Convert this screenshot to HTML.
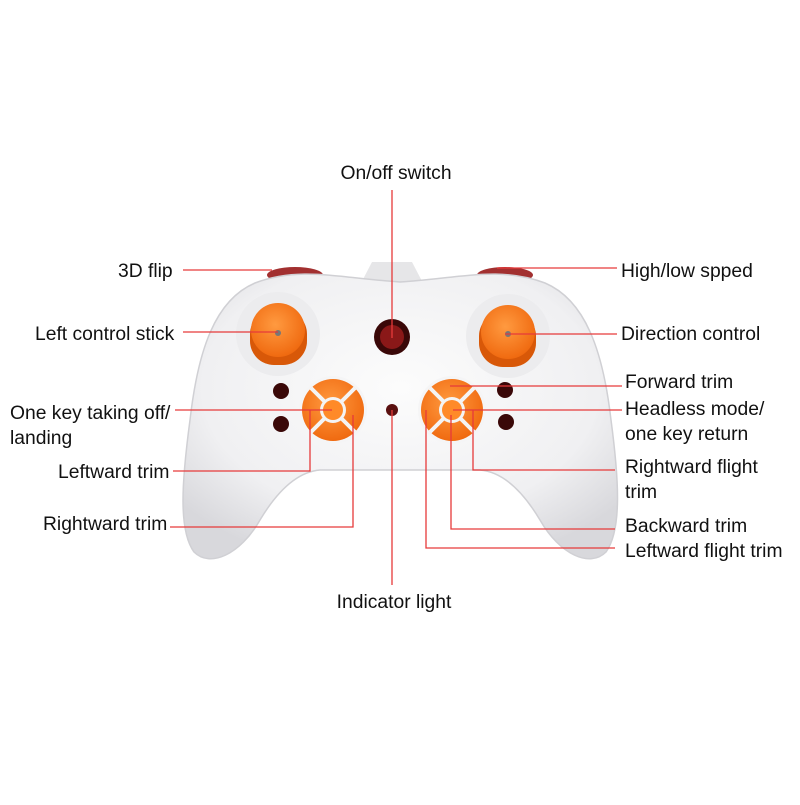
<!DOCTYPE html>
<html><head><style>
body{margin:0;background:#fff;}
.t{font-family:"Liberation Sans",sans-serif;font-size:19.3px;fill:#111;}
</style></head><body>
<svg width="800" height="800" viewBox="0 0 800 800" xmlns="http://www.w3.org/2000/svg">
<defs>
<radialGradient id="body" cx="50%" cy="40%" r="65%"><stop offset="0" stop-color="#fcfcfc"/><stop offset="0.7" stop-color="#f0f0f2"/><stop offset="1" stop-color="#d8d8dc"/></radialGradient>
<radialGradient id="or" cx="45%" cy="40%" r="60%"><stop offset="0" stop-color="#ff9a40"/><stop offset="1" stop-color="#f06a10"/></radialGradient>
</defs>
<ellipse cx="295" cy="275" rx="28" ry="8" fill="#a23030"/>
<ellipse cx="505" cy="275" rx="28" ry="8" fill="#a23030"/>
<path d="M360 285 L372 262 L412 262 L424 285 Z" fill="#e6e6e8"/>
<path d="M255 283 C300 266 340 278 400 282 C460 278 500 266 545 283 C585 300 603 350 611 420 C619 480 622 530 606 552 C590 568 560 555 540 520 C525 495 505 472 480 470 L320 470 C295 472 275 495 260 520 C240 555 210 568 194 552 C178 530 182 480 190 420 C198 350 215 300 255 283 Z" fill="url(#body)" stroke="#d0d0d4" stroke-width="1.5"/>
<circle cx="278" cy="334" r="42" fill="#ececee"/>
<circle cx="508" cy="336" r="42" fill="#ececee"/>
<rect x="250" y="310" width="57" height="55" rx="24" fill="#d85808"/>
<circle cx="278" cy="330" r="27" fill="url(#or)"/>
<circle cx="278" cy="333" r="3" fill="#777"/>
<rect x="479" y="312" width="57" height="55" rx="24" fill="#d85808"/>
<circle cx="508" cy="332" r="27" fill="url(#or)"/>
<circle cx="508" cy="334" r="3" fill="#777"/>
<circle cx="392" cy="337" r="18" fill="#3a0808"/>
<circle cx="392" cy="337" r="12" fill="#8a1818"/>
<circle cx="281" cy="391" r="8" fill="#3a0808"/>
<circle cx="281" cy="424" r="8" fill="#3a0808"/>
<circle cx="505" cy="390" r="8" fill="#3a0808"/>
<circle cx="506" cy="422" r="8" fill="#3a0808"/>
<circle cx="392" cy="410" r="6" fill="#5a1010"/>
<g>
<circle cx="333" cy="410" r="34" fill="#f5f5f6"/>
<circle cx="333" cy="410" r="31" fill="url(#or)"/>
<line x1="311" y1="388" x2="355" y2="432" stroke="#f4f4f4" stroke-width="4"/>
<line x1="355" y1="388" x2="311" y2="432" stroke="#f4f4f4" stroke-width="4"/>
<circle cx="333" cy="410" r="13" fill="#f4f4f4"/>
<circle cx="333" cy="410" r="10" fill="#ff8a28"/>
</g>
<g>
<circle cx="452" cy="410" r="34" fill="#f5f5f6"/>
<circle cx="452" cy="410" r="31" fill="url(#or)"/>
<line x1="430" y1="388" x2="474" y2="432" stroke="#f4f4f4" stroke-width="4"/>
<line x1="474" y1="388" x2="430" y2="432" stroke="#f4f4f4" stroke-width="4"/>
<circle cx="452" cy="410" r="13" fill="#f4f4f4"/>
<circle cx="452" cy="410" r="10" fill="#ff8a28"/>
</g>
<g stroke="#e63a3a" stroke-width="1.3" fill="none">
<path d="M392 190 V338"/>
<path d="M183 270 H272"/>
<path d="M497 268 H617"/>
<path d="M183 332 H278"/>
<path d="M505 334 H617"/>
<path d="M450 386 H622"/>
<path d="M175 410 H332"/>
<path d="M453 410 H622"/>
<path d="M173 471 H310 V410"/>
<path d="M170 527 H353 V415"/>
<path d="M473 410 V470 H615"/>
<path d="M451 415 V529 H615"/>
<path d="M426 410 V548 H615"/>
<path d="M392 410 V585"/>
</g>
<text class="t" x="396" y="179" text-anchor="middle">On/off switch</text>
<text class="t" x="118" y="277">3D flip</text>
<text class="t" x="621" y="277">High/low spped</text>
<text class="t" x="35" y="340">Left control stick</text>
<text class="t" x="621" y="340">Direction control</text>
<text class="t" x="625" y="388">Forward trim</text>
<text class="t" x="10" y="419">One key taking off/</text>
<text class="t" x="10" y="444">landing</text>
<text class="t" x="625" y="415">Headless mode/</text>
<text class="t" x="625" y="440">one key return</text>
<text class="t" x="58" y="478">Leftward trim</text>
<text class="t" x="625" y="473">Rightward flight</text>
<text class="t" x="625" y="498">trim</text>
<text class="t" x="43" y="530">Rightward trim</text>
<text class="t" x="625" y="532">Backward trim</text>
<text class="t" x="625" y="557">Leftward flight trim</text>
<text class="t" x="394" y="608" text-anchor="middle">Indicator light</text>
</svg>
</body></html>
